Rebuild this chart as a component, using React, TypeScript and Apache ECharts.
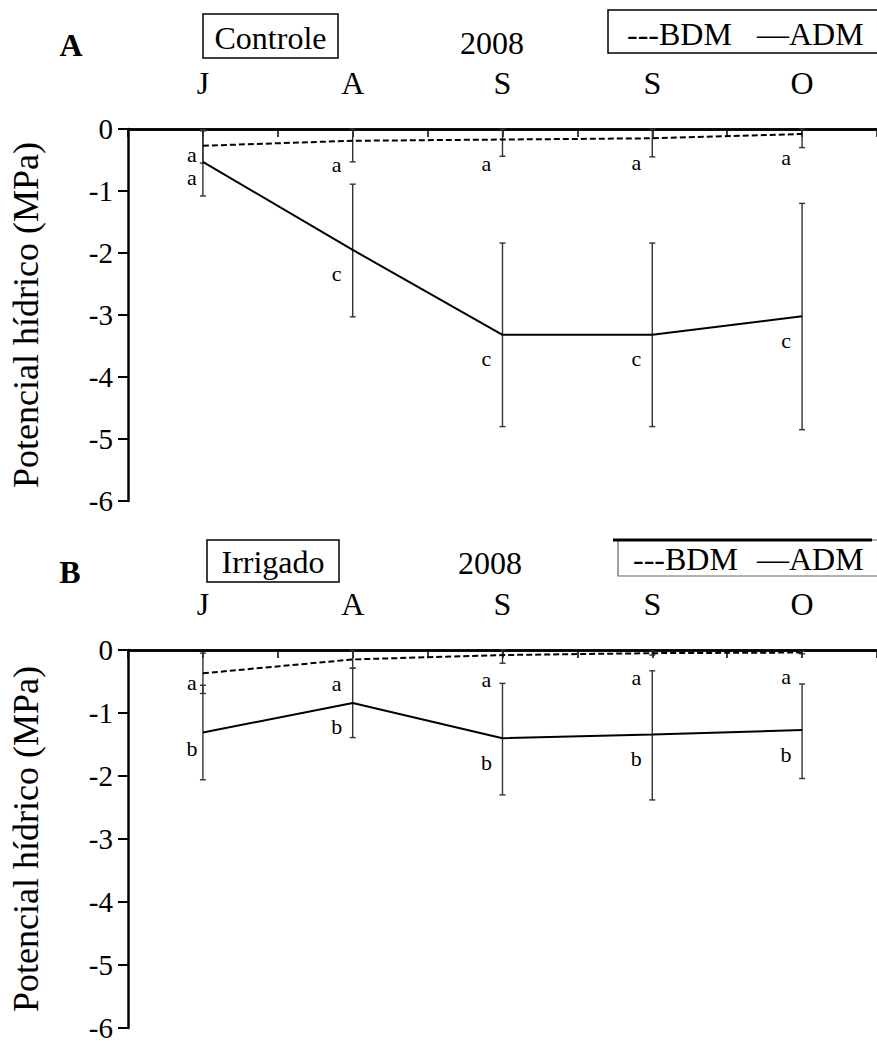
import React, { useEffect, useRef } from 'react';
import * as echarts from 'echarts';

const FONT = "'Liberation Serif', 'Times New Roman', serif";

const months = ['J', 'A', 'S', 'S', 'O'];
const yAxisTitle = 'Potencial hídrico (MPa)';
const year = '2008';

// Panel A - Controle
const ctrlBdm = [-0.27, -0.19, -0.17, -0.15, -0.08];
const ctrlBdmLow = [-0.55, -0.53, -0.44, -0.45, -0.30];
const ctrlBdmHigh = [-0.03, 0.0, 0.0, 0.0, 0.0];
const ctrlAdm = [-0.53, -1.95, -3.32, -3.32, -3.02];
const ctrlAdmLow = [-1.08, -3.03, -4.8, -4.8, -4.85];
const ctrlAdmHigh = [-0.01, -0.89, -1.84, -1.84, -1.2];
const ctrlBdmLetters = ['a', 'a', 'a', 'a', 'a'];
const ctrlAdmLetters = ['a', 'c', 'c', 'c', 'c'];

// Panel B - Irrigado
const irrBdm = [-0.37, -0.15, -0.08, -0.05, -0.04];
const irrBdmLow = [-0.69, -0.29, -0.21, -0.08, -0.06];
const irrBdmHigh = [-0.05, -0.01, 0.0, -0.02, -0.02];
const irrAdm = [-1.31, -0.84, -1.4, -1.34, -1.27];
const irrAdmLow = [-2.06, -1.39, -2.3, -2.38, -2.04];
const irrAdmHigh = [-0.56, -0.29, -0.53, -0.33, -0.54];
const irrBdmLetters = ['a', 'a', 'a', 'a', 'a'];
const irrAdmLetters = ['b', 'b', 'b', 'b', 'b'];

// label placement (style): offsets of the significance letters from each point, per month
const letterDx = [-11, -16, -16, -16, -16];
const bdmLetterDy = [9, 24, 24, 24, 24];
const admLetterDy = [16, 24, 24, 24, 24];

const panels = [
  { tag: 'A', title: 'Controle', bdm: ctrlBdm, bdmLow: ctrlBdmLow, bdmHigh: ctrlBdmHigh, adm: ctrlAdm, admLow: ctrlAdmLow, admHigh: ctrlAdmHigh, bdmLetters: ctrlBdmLetters, admLetters: ctrlAdmLetters },
  { tag: 'B', title: 'Irrigado', bdm: irrBdm, bdmLow: irrBdmLow, bdmHigh: irrBdmHigh, adm: irrAdm, admLow: irrAdmLow, admHigh: irrAdmHigh, bdmLetters: irrBdmLetters, admLetters: irrAdmLetters },
];

const grids = [
  { left: 117.5, top: 129, width: 762, height: 372 },
  { left: 120, top: 650, width: 763, height: 378 },
];

function errRender(letters: string[], dys: number[]) {
  return (params: any, api: any) => {
    const i = api.value(0);
    const lo = api.coord([i, api.value(1)]);
    const hi = api.coord([i, api.value(2)]);
    const mid = api.coord([i, api.value(3)]);
    const x = lo[0];
    const cap = 3;
    const st = { stroke: '#333', lineWidth: 1.4 };
    const k = params.dataIndex;
    return {
      type: 'group',
      children: [
        { type: 'line', shape: { x1: x, y1: hi[1], x2: x, y2: lo[1] }, style: st },
        { type: 'line', shape: { x1: x - cap, y1: hi[1], x2: x + cap, y2: hi[1] }, style: st },
        { type: 'line', shape: { x1: x - cap, y1: lo[1], x2: x + cap, y2: lo[1] }, style: st },
        {
          type: 'text',
          style: {
            text: letters[k],
            x: x + letterDx[k],
            y: mid[1] + dys[k],
            font: `22px ${FONT}`,
            fill: '#000',
            align: 'center',
            verticalAlign: 'middle',
            textAlign: 'center',
            textVerticalAlign: 'middle',
          },
        },
      ],
    };
  };
}

export default function App() {
  const ref = useRef<HTMLDivElement>(null);
  useEffect(() => {
    if (!ref.current) return;
    const chart = echarts.init(ref.current, undefined, { renderer: 'svg' });
    const xAxis: any[] = [];
    const yAxis: any[] = [];
    const series: any[] = [];
    panels.forEach((p, g) => {
      const base = {
        type: 'category',
        gridIndex: g,
        data: months,
        position: 'top',
        boundaryGap: true,
        axisLine: { show: true, onZero: true, lineStyle: { color: '#000', width: 2.5 } },
        splitLine: { show: false },
      };
      xAxis.push({
        ...base,
        axisTick: { show: true, inside: true, length: 8, interval: 0, alignWithLabel: false, lineStyle: { color: '#000', width: 1.5 } },
        axisLabel: { show: true, interval: 0, margin: 30, color: '#000', fontFamily: FONT, fontSize: 32 },
      });
      xAxis.push({
        ...base,
        axisTick: { show: true, inside: true, length: 8, interval: 0, alignWithLabel: true, lineStyle: { color: '#000', width: 1.5 } },
        axisLabel: { show: false },
      });
      yAxis.push({
        type: 'value',
        gridIndex: g,
        min: -6,
        max: 0,
        interval: 1,
        axisLine: { show: true, lineStyle: { color: '#000', width: 2.5 } },
        axisTick: { show: true, length: 10, lineStyle: { color: '#000', width: 2 } },
        axisLabel: { margin: 15, color: '#000', fontFamily: FONT, fontSize: 29 },
        splitLine: { show: false },
        name: yAxisTitle,
        nameLocation: 'middle',
        nameGap: 84,
        nameTextStyle: { color: '#000', fontFamily: FONT, fontSize: 36 },
      });
      const xi = g * 2;
      series.push({
        type: 'custom',
        name: 'BDM err',
        xAxisIndex: xi,
        yAxisIndex: g,
        renderItem: errRender(p.bdmLetters, bdmLetterDy),
        data: months.map((_, i) => [i, p.bdmLow[i], p.bdmHigh[i], p.bdm[i]]),
        encode: { x: 0, y: [1, 2] },
        z: 2,
      });
      series.push({
        type: 'custom',
        name: 'ADM err',
        xAxisIndex: xi,
        yAxisIndex: g,
        renderItem: errRender(p.admLetters, admLetterDy),
        data: months.map((_, i) => [i, p.admLow[i], p.admHigh[i], p.adm[i]]),
        encode: { x: 0, y: [1, 2] },
        z: 2,
      });
      series.push({
        type: 'line',
        name: 'BDM',
        xAxisIndex: xi,
        yAxisIndex: g,
        data: p.bdm,
        symbol: 'none',
        lineStyle: { color: '#000', width: 2, type: [6, 3] },
        z: 3,
      });
      series.push({
        type: 'line',
        name: 'ADM',
        xAxisIndex: xi,
        yAxisIndex: g,
        data: p.adm,
        symbol: 'none',
        lineStyle: { color: '#000', width: 2 },
        z: 3,
      });
    });

    const txt = (text: string, x: number, y: number, size: number, opts: any = {}) => ({
      type: 'text',
      x,
      y,
      style: {
        text,
        font: `${opts.bold ? 'bold ' : ''}${size}px ${FONT}`,
        fill: '#000',
        align: opts.align || 'center',
        verticalAlign: 'middle',
        textAlign: opts.align || 'center',
        textVerticalAlign: 'middle',
      },
      z: 10,
    });

    const graphic: any[] = [
      // Panel A
      txt(panels[0].tag, 71, 45, 32, { bold: true }),
      { type: 'rect', shape: { x: 203, y: 14, width: 135, height: 44 }, style: { fill: '#fff', stroke: '#000', lineWidth: 1.5 }, z: 9 },
      txt(panels[0].title, 270.5, 38, 32),
      txt(year, 492, 43, 32),
      { type: 'rect', shape: { x: 608, y: 10, width: 275, height: 43 }, style: { fill: '#fff', stroke: '#000', lineWidth: 1.5 }, z: 9 },
      txt('---BDM', 627, 34, 32, { align: 'left' }),
      txt('—ADM', 757, 34, 32, { align: 'left' }),
      // Panel B
      txt(panels[1].tag, 70, 572, 32, { bold: true }),
      { type: 'rect', shape: { x: 207, y: 540, width: 132, height: 42 }, style: { fill: '#fff', stroke: '#000', lineWidth: 1.5 }, z: 9 },
      txt(panels[1].title, 273, 562, 32),
      txt(year, 490, 563, 32),
      { type: 'rect', shape: { x: 618, y: 540, width: 265, height: 36 }, style: { fill: '#fff', stroke: '#666', lineWidth: 1.2 }, z: 9 },
      { type: 'line', shape: { x1: 613, y1: 540, x2: 872, y2: 540 }, style: { stroke: '#000', lineWidth: 3 }, z: 10 },
      txt('---BDM', 633, 559, 32, { align: 'left' }),
      txt('—ADM', 757, 559, 32, { align: 'left' }),
    ];

    chart.setOption({
      animation: false,
      backgroundColor: '#fff',
      grid: grids,
      xAxis,
      yAxis,
      series,
      graphic,
    });
    return () => chart.dispose();
  }, []);
  return <div ref={ref} style={{ position: 'absolute', left: 0, top: 0, width: 877, height: 1045 }} />;
}
